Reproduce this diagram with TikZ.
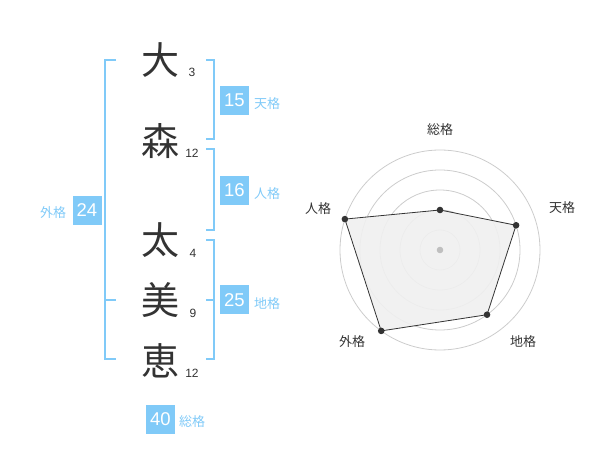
\documentclass[tikz,border=0pt]{standalone}
\usepackage{fontspec}
\setmainfont{Liberation Sans}
\newfontfamily\cjk{Noto Sans CJK JP}
\definecolor{kaku}{RGB}{128,202,248}
\definecolor{ink}{RGB}{51,51,51}
\definecolor{ring}{RGB}{204,204,204}

\begin{document}
\begin{tikzpicture}[x=1pt,y=-1pt]
\tikzstyle{every node}+=[inner sep=0pt]
\tikzstyle{kanji}=[font=\cjk\fontsize{38}{38}\selectfont,text=ink]
\tikzstyle{strokes}=[font=\fontsize{12}{12}\selectfont,text=ink]
\tikzstyle{numbox}=[fill=kaku,minimum size=29pt,text=white,font=\fontsize{18.5}{18.5}\selectfont]
\tikzstyle{kakulabel}=[font=\cjk\fontsize{13}{13}\selectfont,text=kaku]
\tikzstyle{axislabel}=[font=\cjk\fontsize{13}{13}\selectfont,text=ink]
\tikzstyle{bracket}=[draw=kaku,line width=1.5pt]
\useasboundingbox (0,0) rectangle (600,470);
% name
\node[kanji] (c1) at (160,60) {大};
\node[kanji] (c2) at (160,141) {森};
\node[kanji] (c3) at (160,240) {太};
\node[kanji] (c4) at (160,300) {美};
\node[kanji] (c5) at (160,361) {恵};
\node[strokes] (s1) at (192,72) {3};
\node[strokes] (s2) at (192,153) {12};
\node[strokes] (s3) at (193,253) {4};
\node[strokes] (s4) at (193,313) {9};
\node[strokes] (s5) at (192,373) {12};
% brackets
\draw[bracket] (116,60) -- (105,60) -- (105,359) -- (116,359);
\draw[bracket] (105,300) -- (116,300);
\draw[bracket] (206,60) -- (214,60) -- (214,139) -- (206,139);
\draw[bracket] (206,149) -- (214,149) -- (214,230) -- (206,230);
\draw[bracket] (206,240) -- (214,240) -- (214,359) -- (206,359);
\draw[bracket] (206,300) -- (214,300);
% totals
\node[numbox] (gai) at (87,210.5) {24};
\node[kakulabel] (gaiL) at (53,213) {外格};
\node[numbox] (ten) at (234.5,100.5) {15};
\node[kakulabel,anchor=west] (tenL) at (254,104) {天格};
\node[numbox] (jin) at (234.5,190.5) {16};
\node[kakulabel,anchor=west] (jinL) at (254,194) {人格};
\node[numbox] (chi) at (234.5,300) {25};
\node[kakulabel,anchor=west] (chiL) at (254,304) {地格};
\node[numbox] (sou) at (160.5,419) {40};
\node[kakulabel] (souL) at (192,422) {総格};
% radar
\begin{scope}[xshift=440pt,yshift=-250pt,y=1pt]
\foreach \r in {20,40,60,80,100}
  \draw[ring,line width=0.8pt] (0,0) circle (\r);
\coordinate (pSou) at (90:40);
\coordinate (pTen) at (18:80);
\coordinate (pChi) at (-54:80);
\coordinate (pGai) at (-126:100);
\coordinate (pJin) at (162:100);
\filldraw[fill=black!6,draw=ink,line width=0.8pt,fill opacity=0.9] (pSou) -- (pTen) -- (pChi) -- (pGai) -- (pJin) -- cycle;
\foreach \p in {pSou,pTen,pChi,pGai,pJin}
  \fill[ink] (\p) circle (3.3);
\fill[black!25] (0,0) circle (3.3);
\node[axislabel] (aSou) at (0,120) {総格};
\node[axislabel] (aTen) at (122,42) {天格};
\node[axislabel] (aChi) at (83,-92) {地格};
\node[axislabel] (aGai) at (-88,-92) {外格};
\node[axislabel] (aJin) at (-122,41) {人格};
\end{scope}
\end{tikzpicture}
\end{document}
